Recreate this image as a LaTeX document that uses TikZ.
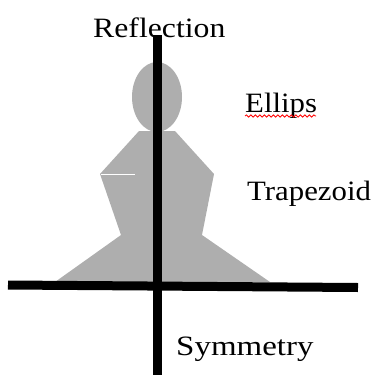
\documentclass[tikz,border=0pt]{standalone}
\usepackage{fontspec}
\setmainfont{Liberation Serif}
\usetikzlibrary{decorations.pathmorphing}
\definecolor{shapegray}{RGB}{174,174,174}
\tikzset{
  lbl/.style={anchor=base west, inner sep=0pt, font=\fontsize{28}{30}\selectfont, xscale=1.1, transform shape},
  axis/.style={line width=9pt, black},
  fillshape/.style={fill=shapegray, draw=none},
  squiggle/.style={red, line width=0.8pt, decorate, decoration={snake, amplitude=1.1pt, segment length=4.5pt}}
}
\begin{document}
\begin{tikzpicture}[x=1pt, y=-1pt]
\useasboundingbox (0,0) rectangle (373,375);
% gray figure
\fill[fillshape] (157,97) ellipse [x radius=25, y radius=35];
\fill[fillshape] (139,131) -- (175,131) -- (214,174) -- (202,235) -- (270,282)
  -- (55,282) -- (121,235) -- (100,174) -- cycle;
\draw[white, line width=0.6pt] (101,174) -- (135,174);
% labels
\node[lbl, xscale=1.03] (refl) at (93,37.5) {Reflection};
\node[lbl] (ell) at (245,112) {Ellips};
\node[lbl] (trap) at (247,200) {Trapezoid};
\node[lbl, xscale=1.07] (sym) at (176,355) {Symmetry};
\draw[squiggle] (ell.base west) ++(0,4) coordinate (sqa) -- ++(71,0) coordinate (sqb);
% axes
\coordinate (vtop) at (157,35);
\coordinate (vbot) at (157,375);
\coordinate (hl) at (8,285);
\coordinate (hr) at (358,287.5);
\draw[axis] (vtop) -- (vbot);
\draw[axis] (hl) -- (hr);
\end{tikzpicture}
\end{document}
